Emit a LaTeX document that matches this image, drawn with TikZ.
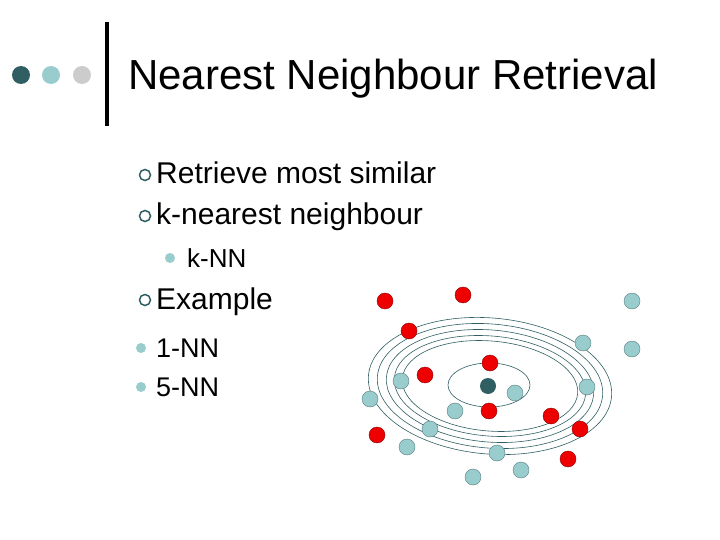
\documentclass[tikz,border=0pt]{standalone}
\usepackage{fontspec}
\setmainfont{Liberation Sans}
\begin{document}
\begin{tikzpicture}[x=1pt,y=-1pt]
\definecolor{dk}{HTML}{2F5F63}
\definecolor{lt}{HTML}{99CCCC}
\definecolor{gy}{HTML}{CCCCCC}
\definecolor{rd}{HTML}{EE0000}
\tikzset{
 txt/.style={anchor=base west,inner sep=0pt,font=\fontsize{30}{30}\selectfont},
 sub/.style={anchor=base west,inner sep=0pt,font=\fontsize{27}{27}\selectfont},
 hb/.style={circle,draw=dk,line width=1.5pt,minimum size=11pt,inner sep=0pt},
 fb/.style={circle,fill=lt,minimum size=10pt,inner sep=0pt},
 rdot/.style={circle,fill=rd,draw=rd!60!black,line width=0.4pt,minimum size=16pt,inner sep=0pt},
 tdot/.style={circle,fill=lt,draw=dk!80,line width=0.4pt,minimum size=16pt,inner sep=0pt},
 ring/.style={draw=dk,line width=0.6pt}
}
\useasboundingbox (0,0) rectangle (720,540);
\fill[white] (0,0) rectangle (720,540);
\node[circle,fill=dk,minimum size=18pt,inner sep=0pt] (d1) at (21,75) {};
\node[circle,fill=lt,minimum size=18pt,inner sep=0pt] (d2) at (51,75) {};
\node[circle,fill=gy,minimum size=18pt,inner sep=0pt] (d3) at (82,75) {};
\draw[line width=3.5pt] (107,22) -- (107,126);
\node[anchor=base west,inner sep=0pt,font=\fontsize{42}{42}\selectfont] (title) at (128,90) {Nearest Neighbour Retrieval};
\node[hb] (b1) at (145,175) {};
\node[txt] (t1) at (156,184) {Retrieve most similar};
\node[hb] (b2) at (145,216) {};
\node[txt] (t2) at (156,225) {k-nearest neighbour};
\node[fb] (b3) at (170,258) {};
\node[sub,font=\fontsize{26}{26}\selectfont] (t3) at (187,267) {k-NN};
\node[hb] (b4) at (145,300) {};
\node[txt] (t4) at (156,309) {Example};
\node[fb] (b5) at (141,348) {};
\node[sub] (t5) at (156,357) {1-NN};
\node[fb] (b6) at (141,387) {};
\node[sub] (t6) at (156,396) {5-NN};
% rings
\draw[ring] (489,385) ellipse [x radius=41,y radius=22];
\foreach \a/\b in {122/68,113/62,104/56,96/50,88/45}
  \draw[ring,rotate around={-5:(490,386)}] (490,386) ellipse [x radius=\a,y radius=\b];
% dots
\foreach \x/\y [count=\i] in {385/301,463/295,409/331,425/375,490/363,489/411,551/416,580/429,377/435,568/459}
  \node[rdot] (r\i) at (\x,\y) {};
\foreach \x/\y [count=\i] in {632/301,583/343,632/349,401/381,370/399,455/411,587/387,515/393,430/429,407/447,497/453,521/470,473/477}
  \node[tdot] (c\i) at (\x,\y) {};
\node[circle,fill=dk,minimum size=16pt,inner sep=0pt] (q) at (488,386) {};
\end{tikzpicture}
\end{document}
